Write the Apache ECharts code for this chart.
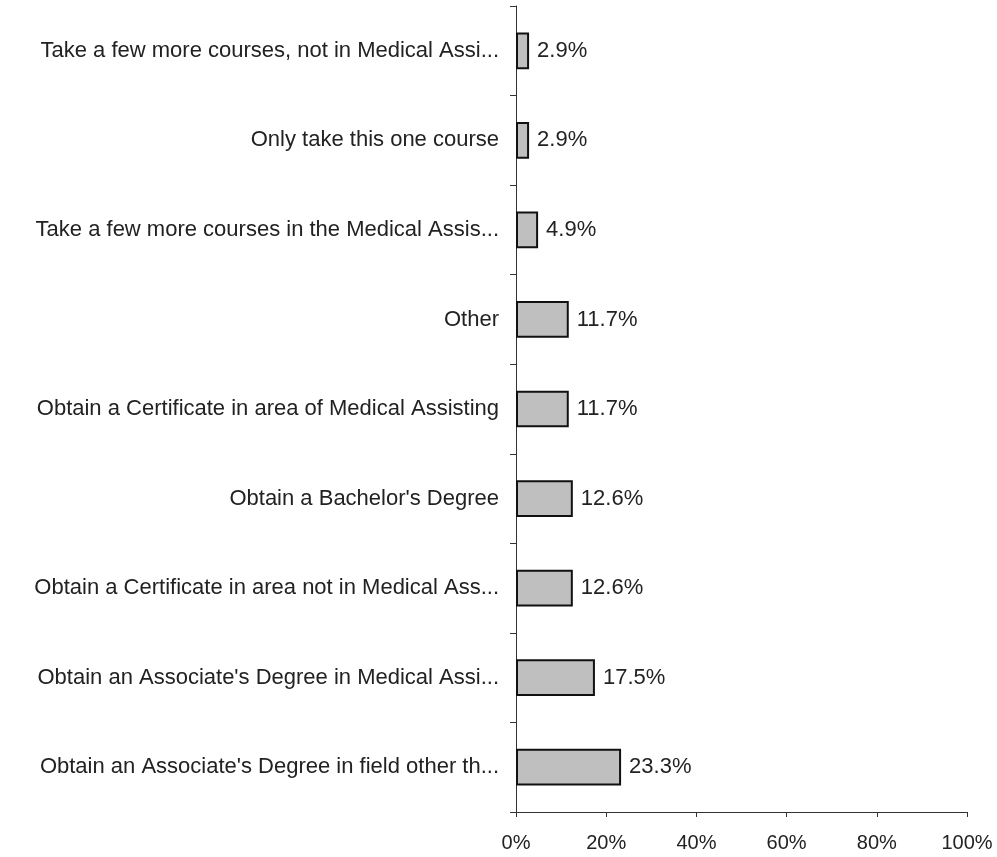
<!DOCTYPE html>
<html>
<head>
<meta charset="utf-8">
<script src="https://cdn.jsdelivr.net/npm/echarts@6/dist/echarts.min.js"></script>
<style>
  html, body { margin: 0; padding: 0; background: #fff; }
  #chart { width: 997px; height: 857px; }
</style>
</head>
<body>
<div id="chart"></div>
<script>
// categories top to bottom, as in the picture
var categories = [
  'Take a few more courses, not in Medical Assi...',
  'Only take this one course',
  'Take a few more courses in the Medical Assis...',
  'Other',
  'Obtain a Certificate in area of Medical Assisting',
  "Obtain a Bachelor's Degree",
  'Obtain a Certificate in area not in Medical Ass...',
  "Obtain an Associate's Degree in Medical Assi...",
  "Obtain an Associate's Degree in field other th..."
]
var percents = [2.9, 2.9, 4.9, 11.7, 11.7, 12.6, 12.6, 17.5, 23.3]
var xTicks = [0, 20, 40, 60, 80, 100]

var font = 'Liberation Sans, Arial, sans-serif'

var chart = echarts.init(document.getElementById('chart'))
chart.setOption({
  animation: false,
  grid: {
    left: 516,
    right: 30,
    top: 6,
    bottom: 45
  },
  xAxis: {
    type: 'value',
    min: xTicks[0],
    max: xTicks[xTicks.length - 1],
    interval: 20,
    axisLine: { show: true, lineStyle: { color: '#333', width: 1 } },
    axisTick: { show: true, length: 5, lineStyle: { color: '#333' } },
    splitLine: { show: false },
    axisLabel: {
      formatter: '{value}%',
      color: '#222',
      fontFamily: font,
      fontSize: 20,
      margin: 21
    }
  },
  yAxis: {
    type: 'category',
    inverse: true,
    data: categories,
    axisLine: { show: true, lineStyle: { color: '#333', width: 1 } },
    axisTick: { show: true, length: 6, lineStyle: { color: '#333' } },
    axisLabel: {
      color: '#222',
      fontFamily: font,
      fontSize: 22,
      margin: 17
    }
  },
  series: [
    {
      type: 'bar',
      data: percents,
      barCategoryGap: '59%',
      itemStyle: {
        color: '#bfbfbf',
        borderColor: '#111',
        borderWidth: 2
      },
      label: {
        show: true,
        position: 'right',
        distance: 8,
        formatter: '{c}%',
        color: '#222',
        fontFamily: font,
        fontSize: 22
      }
    }
  ]
})
</script>
</body>
</html>
